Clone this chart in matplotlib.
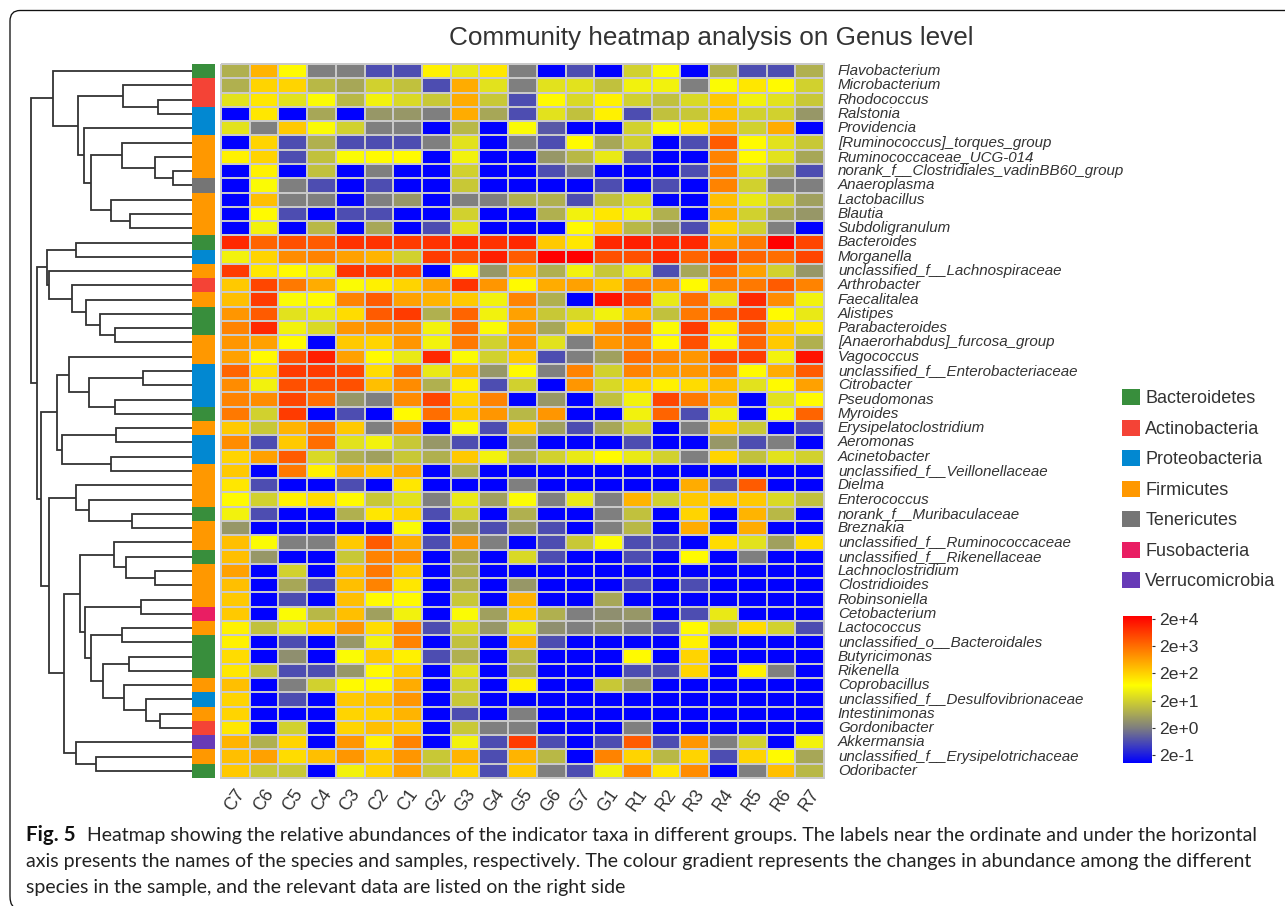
import matplotlib
matplotlib.use('Agg')
import matplotlib.pyplot as plt
import numpy as np
from matplotlib.colors import LinearSegmentedColormap, ListedColormap
from matplotlib.patches import Patch, PathPatch
from matplotlib.path import Path

plt.rcParams['font.family'] = ['Liberation Sans', 'DejaVu Sans']

W, H = 1285, 906

samples = ['C7', 'C6', 'C5', 'C4', 'C3', 'C2', 'C1', 'G2', 'G3', 'G4', 'G5', 'G6',
           'G7', 'G1', 'R1', 'R2', 'R3', 'R4', 'R5', 'R6', 'R7']

genera = ['Flavobacterium', 'Microbacterium', 'Rhodococcus', 'Ralstonia', 'Providencia',
          '[Ruminococcus]_torques_group', 'Ruminococcaceae_UCG-014',
          'norank_f__Clostridiales_vadinBB60_group', 'Anaeroplasma', 'Lactobacillus',
          'Blautia', 'Subdoligranulum', 'Bacteroides', 'Morganella',
          'unclassified_f__Lachnospiraceae', 'Arthrobacter', 'Faecalitalea', 'Alistipes',
          'Parabacteroides', '[Anaerorhabdus]_furcosa_group', 'Vagococcus',
          'unclassified_f__Enterobacteriaceae', 'Citrobacter', 'Pseudomonas', 'Myroides',
          'Erysipelatoclostridium', 'Aeromonas', 'Acinetobacter',
          'unclassified_f__Veillonellaceae', 'Dielma', 'Enterococcus',
          'norank_f__Muribaculaceae', 'Breznakia', 'unclassified_f__Ruminococcaceae',
          'unclassified_f__Rikenellaceae', 'Lachnoclostridium', 'Clostridioides',
          'Robinsoniella', 'Cetobacterium', 'Lactococcus', 'unclassified_o__Bacteroidales',
          'Butyricimonas', 'Rikenella', 'Coprobacillus',
          'unclassified_f__Desulfovibrionaceae', 'Intestinimonas', 'Gordonibacter',
          'Akkermansia', 'unclassified_f__Erysipelotrichaceae', 'Odoribacter']

# values are log10 of abundance / 2
b = -1.3
abundance = [
    [.6, 2.3, 1.6, 0, 0, -.5, -.5, 1.7, 1.3, 1.8, 0, b, -.5, b, 1.0, 1.5, b, .6, -.5, -.5, .6],
    [.6, 2.0, 2.0, .7, .5, 1.0, .8, -.5, 2.4, 1.2, 0, 1.2, 1.2, .8, 1.4, 1.4, 0, 1.5, 1.8, 1.6, 1.0],
    [1.2, 1.8, 1.2, 1.5, .7, 1.4, 1.1, .9, 2.4, .9, -.5, 1.6, 1.1, 1.7, 1.0, .8, 1.1, 2.1, 1.4, 1.2, .9],
    [b, 1.8, b, .5, b, .3, .3, 0, 2.4, .5, -.5, 1.2, .8, 1.7, -.5, .8, .9, 2.2, 1.0, 1.0, .3],
    [1.2, 0, 2.1, 1.5, 1.0, 0, 0, b, .7, b, 1.5, -.4, b, b, 1.0, 1.5, 1.8, 2.4, 1.0, 2.4, b],
    [b, 2.0, -.5, .6, -.5, -.5, -.5, 0, 1.2, b, 0, -.5, 1.6, .5, 1.0, b, -.5, 3.2, 1.6, 1.2, .9],
    [1.7, 2.0, -.5, .8, 1.5, 1.6, 1.6, b, 1.4, b, b, .3, .7, 1.3, -.5, b, b, 2.8, 1.6, 1.2, .5],
    [b, 1.7, b, .8, b, 0, b, b, 1.0, b, b, -.5, 0, b, b, b, -.5, 2.8, 1.2, .5, -.5],
    [b, 1.5, 0, -.5, b, -.5, b, b, .9, b, b, b, b, -.5, b, -.5, b, 2.8, 1.0, 0, 0],
    [b, 2.2, 0, 0, b, 0, .3, b, 0, 0, .6, .6, -.5, .8, 1.1, b, b, 2.2, 1.3, 1.0, .4],
    [b, 1.6, -.5, b, -.5, -.5, b, b, 1.0, b, b, .6, 1.4, 1.8, 1.4, .6, b, 2.4, 1.0, .5, .3],
    [b, 1.4, b, .7, b, .5, b, -.5, 1.2, b, b, b, 1.6, 2.1, .7, .3, -.5, 2.0, 1.0, 0, b],
    [3.7, 3.1, 3.3, 3.2, 3.6, 3.6, 3.5, 3.6, 3.7, 3.6, 3.7, 2.1, 1.8, 3.7, 3.8, 3.7, 3.7, 2.5, 2.9, 4.1, 3.4],
    [1.4, 2.0, 2.7, 2.8, 2.5, 2.3, 1.0, 3.5, 3.3, 3.8, 3.2, 4.1, 4.1, 3.3, 3.3, 3.7, 3.1, 3.6, 3.1, 3.0, 3.4],
    [3.5, 1.8, 1.6, 1.4, 3.6, 3.5, 3.4, b, 1.6, .3, 2.3, .6, 1.4, .9, 1.3, -.5, .5, 3.0, 2.5, 1.0, .3],
    [2.1, 3.4, 2.9, 2.4, 1.5, 1.7, 2.0, 2.5, 3.6, 2.6, 1.6, 2.4, 2.5, 2.1, 2.8, 2.6, 1.6, 2.8, 2.9, 3.2, 2.8],
    [2.2, 3.5, 1.5, 1.6, 2.8, 3.2, 2.5, 2.3, 2.1, 1.4, 2.8, .6, b, 3.9, 3.4, 1.3, 3.0, 1.3, 3.7, 2.7, 1.4],
    [2.6, 3.2, 1.2, 1.3, 1.9, 3.2, 3.5, .6, 3.1, 1.4, 2.5, .9, 1.1, 1.4, 2.3, .8, 2.9, 3.1, 3.4, 1.6, 1.3],
    [2.8, 3.7, 1.4, 1.1, 2.6, 2.7, 2.7, 1.4, 3.0, 1.5, 2.6, .5, 2.0, 2.7, 3.0, 1.5, 3.5, 1.7, 3.2, 2.1, 1.8],
    [2.6, 2.5, 1.6, b, 2.1, 2.0, 2.6, 1.4, 2.9, 1.0, 2.6, 1.2, 0, 2.6, 2.8, 1.6, 3.3, 1.5, 3.1, 2.1, .6],
    [2.5, 1.6, 3.3, 3.8, 2.5, 1.6, 1.3, 3.7, 1.5, 1.0, 2.1, -.5, 0, .4, 3.0, 2.8, 2.6, 3.4, 3.5, 1.4, 3.9],
    [3.1, 1.9, 3.5, 3.5, 3.4, 1.9, 3.0, 1.3, 2.3, .3, 1.6, 0, 2.8, 1.0, 2.8, 2.5, 2.6, 2.8, 1.6, 2.4, 3.2],
    [2.7, 1.4, 3.3, 3.3, 3.3, 2.2, 2.7, .6, 1.7, -.5, 1.0, b, 2.6, 1.1, 2.0, 1.7, 1.9, 2.2, 1.2, 1.6, 2.5],
    [2.8, 2.7, 3.4, 3.0, .3, 0, 2.7, 3.4, 2.0, 2.8, b, .3, b, .8, 1.4, 3.4, 2.9, 2.4, b, 1.2, 1.6],
    [2.9, 1.0, 3.5, b, -.5, b, 1.6, 3.0, 2.1, 2.6, .7, 2.6, b, b, 1.4, 3.1, -.5, 1.4, b, 1.5, 3.1],
    [2.1, .9, 2.3, 2.9, 2.1, 0, 2.7, b, 1.5, -.5, 2.1, .4, -.5, .5, 1.0, b, 0, 2.1, .9, b, -.5],
    [2.7, -.5, 2.1, 3.0, 1.2, 1.4, .9, .3, -.5, b, .3, b, b, b, -.5, b, b, .3, -.5, 0, b],
    [2.0, 2.5, 3.2, 1.1, .6, .4, .9, .6, 2.1, 1.4, .6, 1.0, 1.3, 1.6, 1.3, 1.0, 0, 2.0, .8, 1.2, 1.0],
    [2.1, b, 2.9, 1.7, 2.3, 2.1, 2.4, b, .6, b, b, b, b, b, b, b, b, b, b, b, b],
    [1.8, -.5, b, b, -.5, b, 1.8, b, b, b, 0, b, b, b, b, b, 2.4, -.5, 3.2, b, b],
    [1.6, 1.0, 1.7, 1.9, 1.6, .9, 1.2, 0, 1.3, .4, 1.5, 0, 1.3, 0, 2.3, 1.0, 2.1, 2.1, 2.1, 1.1, .8],
    [1.4, -.5, b, b, .6, 1.8, 2.0, -.5, 1.0, b, .6, b, b, 0, .8, b, 2.0, b, 2.3, .7, b],
    [.3, b, b, b, b, b, 1.5, b, .3, -.5, .3, -.5, b, 0, .7, b, 2.4, b, 2.4, b, b],
    [2.2, 1.5, 0, 0, 2.1, 3.2, 2.4, -.5, 2.6, 0, b, -.5, .9, 1.5, -.5, -.5, b, 1.9, 1.2, .4, 1.9],
    [2.2, .3, b, b, .9, 2.8, 2.7, b, .5, b, 1.1, -.5, b, b, -.5, b, 1.6, b, 0, b, b],
    [2.5, b, 1.0, b, 2.2, 2.9, 2.1, b, .6, b, b, b, b, b, b, b, b, b, b, b, b],
    [2.2, b, .5, -.5, 2.2, 2.8, 1.8, b, .6, b, .3, b, b, b, -.5, b, -.5, b, b, b, b],
    [2.1, b, -.5, b, 2.2, 1.6, 1.6, b, .9, b, 2.3, b, b, .5, b, b, b, b, b, b, b],
    [2.1, b, 1.5, .7, 2.2, .4, 1.4, b, 1.5, .4, 2.1, .6, 0, .2, .3, b, -.5, 1.3, b, b, b],
    [1.7, .8, 1.3, 2.1, 2.6, 1.9, 2.8, -.5, 1.1, .3, 1.3, .2, 0, .2, 0, -.5, 1.6, .8, 1.9, 1.0, -.5],
    [1.7, b, -.5, b, .3, 1.4, 2.8, b, .8, b, 2.3, -.5, b, b, b, b, 1.7, b, b, b, b],
    [1.9, b, .2, b, 1.5, 2.1, 1.7, -.5, .6, b, .7, b, b, b, 1.6, b, 2.0, b, b, b, b],
    [1.8, .8, -.5, -.5, .3, 1.6, 2.1, b, 1.2, b, .6, b, b, b, -.5, -.5, 2.0, b, 1.7, 0, b],
    [2.2, b, 0, 1.0, 1.6, 1.6, 2.4, b, 1.0, b, 1.7, b, b, .9, .3, b, b, b, b, b, b],
    [2.0, b, -.5, b, 2.1, 2.2, 2.6, b, .9, b, b, b, b, b, b, b, b, b, b, b, b],
    [2.0, b, b, b, 2.0, 2.0, 2.3, b, -.5, b, 0, b, b, b, b, b, b, b, b, b, b],
    [1.8, b, 1.0, b, 2.0, 2.2, 2.1, b, .9, 0, 0, b, b, b, 0, b, b, b, b, b, b],
    [2.3, .6, 2.0, b, 2.6, 1.7, 2.8, b, 1.4, -.5, 3.5, -.5, b, -.5, 3.2, -.5, 2.6, 0, 1.0, b, 1.4],
    [2.2, 2.5, 1.9, 2.2, 2.6, 2.1, 2.6, .9, 2.3, -.5, 2.3, .7, b, 2.8, 2.0, .7, 2.0, -.5, 2.0, 1.6, .5],
    [2.1, .9, .9, b, 1.4, 2.0, 2.5, .9, 2.0, -.5, 2.1, 0, -.5, 1.4, 2.8, 1.8, 2.7, b, 0, 2.2, .7],
]

phyla = ['Bacteroidetes', 'Actinobacteria', 'Proteobacteria', 'Firmicutes', 'Tenericutes',
         'Fusobacteria', 'Verrucomicrobia']
phylum_colors = ['#388e3c', '#f44336', '#0288d1', '#ff9800', '#757575', '#e91e63', '#673ab7']

# phylum index of each genus, top to bottom
genus_phylum = [0, 1, 1, 2, 2, 3, 3, 3, 4, 3, 3, 3, 0, 2, 3, 1, 3, 0, 0, 3, 3, 2, 2, 2, 0,
                3, 2, 2, 3, 3, 3, 0, 3, 3, 0, 3, 3, 3, 5, 3, 0, 0, 0, 3, 2, 3, 1, 6, 3, 0]

# dendrogram: (height, child, child), an int is a row number from the top
tree = (161,
        (139, 1,
         (114,
          (69, 2, (34, 3, 4)),
          (108, 5,
           (101,
            (70, 6, (37, 7, (19, 8, 9))),
            (81, 10, (62, 11, 12)))))),
        (155.5,
         (145,
          (116, 13, 14),
          (143, 15,
           (120, 16,
            (106, 17, (92.5, 18, (77, 19, 20)))))),
         (151,
          (135,
           (123, 21, (103, (49, 22, 23), (77, 24, 25))),
           (130, (76, 26, 27), (81, 28, 29))),
          (143.5,
           (116, 30, (103, 31, (60, 32, 33))),
           (128,
            (112,
             (78, 34, (66, 35, (37, 36, 37))),
             (107,
              (51, 38, 39),
              (101,
               (70, 40, 41),
               (89,
                (63, 42, 43),
                (68, 44, (46, 45, (32, 46, 47))))))),
            (116, 48, (96, 49, 50)))))))

cbar_ticks = [4, 3, 2, 1, 0, -1]
cbar_labels = ['2e+4', '2e+3', '2e+2', '2e+1', '2e+0', '2e-1']

caption_lines = [
    'Heatmap showing the relative abundances of the indicator taxa in different groups. The labels near the ordinate and under the horizontal',
    'axis presents the names of the species and samples, respectively. The colour gradient represents the changes in abundance among the different',
    'species in the sample, and the relevant data are listed on the right side',
]

vmin, vmax = -1.29, 4.11
cmap = LinearSegmentedColormap.from_list('heat', [
    (0, '#0000ff'),
    ((0.0 - vmin) / (vmax - vmin), '#7f7f7f'),
    ((1.56 - vmin) / (vmax - vmin), '#ffff00'),
    (1, '#ff0000')])


def px_axes(x0, y0, x1, y1):
    # axes from pixel box, y counted from the top
    return fig.add_axes([x0 / W, 1 - y1 / H, (x1 - x0) / W, (y1 - y0) / H])


def draw_node(ax, node):
    # returns (height, y) of the node
    if isinstance(node, int):
        return 0, node - 0.5
    h, left, right = node
    h1, y1 = draw_node(ax, left)
    h2, y2 = draw_node(ax, right)
    ax.plot([h1, h, h, h2], [y1, y1, y2, y2], color='#333333', lw=1.3,
            solid_joinstyle='miter', solid_capstyle='butt')
    return h, (y1 + y2) / 2


fig = plt.figure(figsize=(W / 100, H / 100), dpi=100, facecolor='white')

n_rows, n_cols = len(genera), len(samples)

# heatmap
ax = px_axes(221, 64, 824, 778)
ax.pcolormesh(np.arange(n_cols + 1), np.arange(n_rows + 1), np.array(abundance), cmap=cmap,
              vmin=vmin, vmax=vmax, edgecolors='#c9c9c9', linewidth=1.1, clip_on=False)
ax.set_xlim(0, n_cols)
ax.set_ylim(n_rows, 0)
ax.yaxis.tick_right()
ax.set_yticks(np.arange(n_rows) + 0.5)
ax.set_yticklabels(genera, fontsize=10.9, style='italic', color='#333333', va='center')
ax.set_xticks(np.arange(n_cols) + 0.5)
ax.set_xticklabels(samples, fontsize=12.8, rotation=55, color='#333333', ha='center', va='top')
ax.tick_params(length=0)
ax.tick_params(axis='y', pad=10)
ax.tick_params(axis='x', pad=6)
for s in ax.spines.values():
    s.set_visible(False)

# phylum bar
ax2 = px_axes(192, 64, 215, 778)
ax2.pcolormesh(np.array(genus_phylum).reshape(-1, 1), cmap=ListedColormap(phylum_colors),
               vmin=-0.5, vmax=6.5)
ax2.set_ylim(n_rows, 0)
ax2.axis('off')

# dendrogram
ax3 = px_axes(0, 64, 192, 778)
draw_node(ax3, tree)
ax3.set_xlim(192, 0)
ax3.set_ylim(n_rows, 0)
ax3.axis('off')

# phylum legend
handles = [Patch(facecolor=c, edgecolor='none') for c in phylum_colors]
fs = 13
fig.legend(handles, phyla, loc='upper left', bbox_to_anchor=(1122 / W, 1 - 389 / H), frameon=False,
           fontsize=fs, labelcolor='#333333', handlelength=18 / (fs * 100 / 72),
           handleheight=18 / (fs * 100 / 72), labelspacing=0.68, handletextpad=0.3,
           borderpad=0, borderaxespad=0)

# colour bar
ax4 = px_axes(1123, 616, 1152, 763)
ax4.imshow(np.linspace(vmax, vmin, 256).reshape(-1, 1), cmap=cmap, vmin=vmin, vmax=vmax,
           aspect='auto', extent=[0, 1, vmin, vmax])
ax4.set_xticks([])
ax4.yaxis.tick_right()
ax4.set_yticks(cbar_ticks)
ax4.set_yticklabels(cbar_labels, fontsize=12.6, color='#333333')
ax4.tick_params(axis='y', length=2.5, width=0.8, color='#333333', pad=2.5)
for s in ax4.spines.values():
    s.set_visible(False)

# overlay in pixels: frame, title, caption
ov = fig.add_axes([0, 0, 1, 1], facecolor='none')
ov.set_xlim(0, W)
ov.set_ylim(H, 0)
ov.axis('off')
frame = Path([(W, 10.5), (20, 10.5), (10, 10.5), (10, 21), (10, 896), (10, 904), (13, 906)],
             [Path.MOVETO, Path.LINETO, Path.CURVE3, Path.CURVE3, Path.LINETO, Path.CURVE3, Path.CURVE3])
ov.add_patch(PathPatch(frame, fill=False, edgecolor='#111111', lw=0.95))
ov.text(711, 38, 'Community heatmap analysis on Genus level', fontsize=18.8, color='#333333',
        ha='center', va='center')
ov.text(26, 835, 'Fig. 5', fontsize=14.8, fontweight='bold', family='Lato', color='#111111', va='center')
ov.text(87, 835, caption_lines[0], fontsize=14.0, family='Lato', color='#222222', va='center')
ov.text(26, 861, caption_lines[1], fontsize=14.0, family='Lato', color='#222222', va='center')
ov.text(26, 887, caption_lines[2], fontsize=14.0, family='Lato', color='#222222', va='center')

fig.savefig('out.png', dpi=100)
